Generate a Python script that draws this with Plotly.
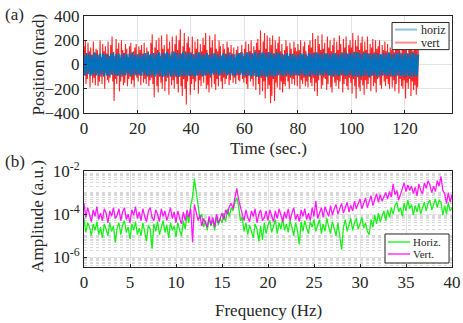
import plotly.graph_objects as go

# (a) position time series (nrad)
vert_step = 0.25
vert = [
    150, -90, 200, -160, 70, -120, 180, -60, 110, -190, 140, -80, 60, -150, 190, -110, 90, -170, 130, -70,
    120, -180, 80, -140, 200, -100, 60, -160, 170, -90, 110, -200, 150, -70, 90, -130, 190, -150, 70, -110,
    160, -80, 230, -140, 100, -300, 70, -120, 210, -160, 130, -90, 180, -220, 60, -140, 200, -100, 120, -170,
    90, -150, 170, -70, 130, -180, 60, -120, 150, -100, 180, -160, 80, -130, 110, -190, 140, -80, 170, -110,
    70, -140, 150, -90, 120, -170, 160, -60, 90, -150, 180, -120, 60, -160, 140, -100, 110, -180, 80, -130,
    180, -110, 250, -160, 90, -270, 140, -80, 200, -180, 120, -230, 220, -100, 70, -150, 240, -200, 130, -90,
    160, -220, 90, -140, 250, -110, 130, -250, 190, -80, 70, -170, 230, -130, 110, -200, 170, -90, 240, -160,
    120, -230, 200, -100, 290, -180, 90, -260, 150, -120, 260, -200, 110, -330, 180, -140, 230, -90, 140, -250,
    100, -160, 230, -120, 80, -210, 190, -140, 130, -90, 210, -240, 70, -130, 170, -180, 110, -100, 220, -150,
    160, -90, 260, -200, 120, -170, 80, -230, 240, -110, 140, -190, 200, -70, 90, -160, 250, -210, 130, -120,
    110, -180, 200, -90, 150, -140, 70, -200, 170, -110, 130, -160, 90, -120, 190, -80, 140, -170, 100, -130,
    160, -70, 90, -150, 140, -110, 60, -160, 120, -90, 150, -130, 80, -140, 100, -70, 160, -120, 70, -150,
    130, -110, 190, -160, 80, -200, 170, -90, 110, -140, 200, -120, 90, -180, 150, -70, 120, -210, 180, -100,
    210, -160, 120, -250, 280, -110, 90, -220, 190, -140, 260, -280, 130, -90, 240, -200, 100, -170, 220, -320,
    160, -260, 240, -120, 90, -300, 200, -150, 130, -190, 180, -80, 230, -210, 110, -140, 170, -230, 80, -160,
    120, -180, 200, -100, 150, -140, 70, -200, 180, -110, 130, -160, 90, -120, 190, -170, 140, -90, 110, -180,
    170, -90, 120, -200, 200, -130, 80, -160, 150, -110, 190, -180, 110, -140, 70, -190, 160, -100, 200, -150,
    140, -180, 260, -110, 100, -220, 210, -150, 90, -260, 240, -130, 170, -90, 120, -200, 250, -170, 130, -110,
    180, -120, 90, -210, 230, -160, 140, -90, 200, -190, 110, -230, 160, -100, 220, -150, 80, -180, 190, -130,
    120, -200, 240, -140, 170, -90, 100, -230, 210, -160, 140, -120, 230, -180, 90, -210, 160, -110, 200, -150,
    140, -240, 260, -120, 90, -180, 200, -280, 150, -100, 240, -190, 120, -220, 180, -130, 230, -170, 110, -250,
    190, -130, 120, -200, 230, -160, 90, -110, 170, -220, 140, -90, 210, -180, 100, -150, 200, -230, 130, -120,
    150, -110, 200, -170, 80, -200, 160, -90, 120, -140, 190, -180, 110, -120, 170, -160, 90, -200, 140, -100,
    120, -190, 250, -130, 100, -220, 180, -160, 230, -90, 140, -240, 200, -120, 90, -180, 220, -200, 160, -130,
    130, -280, 220, -150, 90, -200, 190, -120, 160, -260, 200, -140, 110, -210, 180, -170, 210, -250, 140, -190,
    120,
]
horiz_step = 0.5
horiz = [
    85, -90, 95, -80, 90, -95, 80, -85, 100, -90, 85, -95, 90, -80, 95, -100, 85, -90, 80, -95,
    90, -85, 100, -90, 85, -95, 90, -100, 80, -85, 95, -90, 85, -80, 90, -95, 100, -85, 80, -90,
    85, -80, 90, -95, 80, -85, 95, -90, 100, -95, 85, -90, 95, -100, 90, -85, 100, -95, 90, -100,
    95, -100, 105, -95, 90, -100, 105, -90, 100, -105, 95, -100, 90, -95, 105, -100, 95, -90, 100, -95,
    90, -95, 85, -100, 95, -90, 100, -85, 90, -95, 85, -90, 95, -85, 80, -90, 95, -85, 90, -80,
    85, -90, 80, -85, 90, -80, 85, -90, 95, -85, 80, -90, 85, -95, 90, -80, 95, -85, 100, -90,
    90, -95, 100, -90, 95, -100, 90, -95, 105, -100, 95, -105, 100, -95, 105, -100, 95, -105, 100, -95,
    95, -100, 90, -95, 100, -90, 95, -85, 90, -95, 85, -90, 95, -85, 90, -95, 85, -90, 80, -85,
    85, -90, 95, -85, 90, -95, 85, -90, 95, -100, 90, -85, 95, -90, 100, -95, 90, -85, 95, -90,
    90, -85, 95, -90, 85, -95, 90, -100, 95, -90, 85, -95, 90, -85, 95, -90, 100, -95, 90, -85,
    95, -100, 105, -95, 100, -105, 95, -100, 90, -95, 100, -90, 95, -100, 90, -95, 85, -90, 95, -100,
    90, -95, 85, -90, 95, -85, 90, -95, 100, -90, 85, -95, 90, -100, 95, -90, 100, -95, 90, -100,
    95, -100, 90, -95, 100, -105, 95, -100, 90, -95, 85,
]

# (b) amplitude spectra, log10 values every 0.2 Hz from 0 to 40 Hz
freq_step = 0.2
horiz_log = [
    -4.2, -4.85, -4.4, -4.6, -5.0, -4.45, -4.75, -4.35, -4.95, -4.6,
    -5.1, -4.45, -4.7, -5.0, -4.4, -4.8, -4.55, -5.3, -4.65, -4.4,
    -4.95, -4.5, -4.3, -4.85, -4.6, -5.15, -4.45, -4.75, -4.35, -4.95,
    -4.65, -5.0, -4.4, -4.8, -5.25, -4.5, -4.7, -5.6, -4.45, -4.8,
    -4.35, -4.95, -4.6, -4.3, -4.85, -4.5, -5.1, -4.4, -4.75, -4.55,
    -5.05, -4.4, -4.75, -5.0, -4.3, -4.7, -4.0, -4.4, -3.6, -3.2,
    -2.35, -3.1, -3.6, -4.2, -4.0, -4.6, -4.3, -4.75, -4.2, -4.55,
    -4.25, -4.75, -4.1, -4.5, -4.2, -4.4, -3.95, -4.35, -3.75, -4.1,
    -3.7, -3.85, -3.45, -3.25, -3.6, -4.3, -4.15, -4.8, -4.4, -4.95,
    -4.5, -4.8, -5.1, -4.45, -4.7, -5.25, -4.55, -5.2, -4.4, -4.9,
    -4.5, -4.3, -4.85, -4.55, -4.25, -4.9, -4.4, -4.7, -4.2, -4.75,
    -4.45, -4.85, -4.3, -4.6, -5.0, -4.4, -4.75, -5.4, -4.35, -4.8,
    -4.3, -4.65, -4.9, -4.35, -4.6, -4.25, -4.8, -4.5, -4.25, -4.9,
    -4.45, -4.8, -4.2, -4.6, -4.9, -4.35, -4.7, -5.0, -4.4, -5.1,
    -5.65, -4.6, -4.25, -4.8, -4.45, -4.2, -4.75, -4.4, -4.2, -4.7,
    -4.45, -4.15, -4.65, -4.4, -4.8, -4.95, -4.25, -4.6, -4.05, -4.45,
    -3.95, -4.35, -4.1, -3.85, -4.3, -3.8, -4.15, -3.7, -4.0, -3.6,
    -3.45, -3.9, -3.7, -4.1, -3.5, -3.85, -3.35, -3.75, -3.55, -4.05,
    -3.6, -3.9, -3.5, -4.0, -3.7, -3.45, -3.85, -3.5, -3.35, -3.8,
    -3.55, -3.3, -3.7, -3.35, -3.45, -4.05, -3.6, -4.0, -3.45, -3.85,
    -3.7,
]
vert_log = [
    -3.5, -4.15, -3.7, -4.0, -4.35, -3.8, -4.1, -3.65, -4.25, -3.95,
    -4.3, -3.75, -3.95, -4.4, -3.85, -4.1, -3.7, -4.2, -4.05, -3.75,
    -4.3, -3.9, -3.7, -4.25, -4.0, -4.4, -3.8, -4.05, -3.65, -4.2,
    -3.9, -4.3, -3.75, -4.1, -4.35, -3.85, -3.7, -4.15, -4.3, -3.8,
    -4.0, -4.35, -3.75, -4.1, -3.85, -4.3, -4.0, -3.7, -4.2, -3.9,
    -4.4, -3.85, -4.2, -4.45, -3.9, -4.3, -3.8, -4.15, -3.75, -5.3,
    -3.55, -3.95, -4.3, -4.05, -4.55, -4.2, -4.45, -4.6, -4.1, -4.5,
    -4.15, -4.6, -4.0, -4.4, -4.2, -3.95, -4.25, -3.8, -4.0, -3.65,
    -3.5, -3.75, -3.25, -2.8, -3.3, -3.7, -4.0, -4.3, -3.8, -4.15,
    -4.35, -3.85, -4.1, -3.75, -4.4, -4.0, -3.8, -4.3, -4.15, -3.85,
    -4.3, -3.8, -4.05, -4.35, -3.85, -4.2, -3.75, -4.1, -4.35, -3.9,
    -4.2, -3.75, -4.3, -3.95, -3.7, -4.25, -4.0, -4.35, -3.8, -4.1,
    -3.75, -4.25, -3.95, -4.3, -3.7, -4.1, -3.4, -4.2, -3.9, -3.7,
    -4.15, -3.65, -3.9, -4.1, -3.6, -4.05, -3.75, -3.55, -4.0, -3.7,
    -3.5, -3.95, -3.7, -3.45, -3.9, -3.6, -3.85, -3.4, -3.75, -3.55,
    -3.3, -3.75, -3.5, -3.25, -3.7, -3.4, -3.15, -3.6, -3.35, -3.05,
    -3.45, -3.1, -3.4, -3.2, -3.0, -3.3, -2.95, -3.2, -2.6, -3.1,
    -2.9, -3.35, -3.05, -2.8, -2.55, -2.95, -2.65, -2.9, -2.7, -3.05,
    -2.75, -3.15, -2.6, -2.9, -3.05, -2.55, -2.8, -2.45, -2.65, -3.0,
    -2.7, -2.95, -2.45, -2.7, -2.25, -2.9, -3.05, -3.5, -3.0, -3.45,
    -3.1,
]

t_vert = [i * vert_step for i in range(len(vert))]
t_horiz = [i * horiz_step for i in range(len(horiz))]
f = [i * freq_step for i in range(len(vert_log))]

FONT = "Liberation Serif"
INK = "#262626"

fig = go.Figure()

# vert drawn first so horiz sits on top, as in the reference
fig.add_trace(go.Scatter(x=t_vert, y=vert, mode="lines", name="vert",
                         line=dict(color="rgba(255,0,0,0.85)", width=1.1)))
fig.add_trace(go.Scatter(x=t_horiz, y=horiz, mode="lines", name="horiz",
                         line=dict(color="#0072BD", width=1.8)))
fig.add_trace(go.Scatter(x=f, y=[10 ** v for v in horiz_log], mode="lines",
                         name="Horiz.", line=dict(color="rgba(0,240,0,0.9)", width=1.3),
                         xaxis="x2", yaxis="y2"))
fig.add_trace(go.Scatter(x=f, y=[10 ** v for v in vert_log], mode="lines",
                         name="Vert.", line=dict(color="rgba(255,0,255,0.9)", width=1.3),
                         xaxis="x2", yaxis="y2"))

ax = dict(showline=True, mirror=True, linecolor=INK, linewidth=1,
          ticks="inside", ticklen=3, tickcolor=INK, zeroline=False, automargin=False,
          gridcolor="#e3e3e3", tickfont=dict(family=FONT, size=17, color=INK))


def label(text, x, y, size=17, angle=0, anchor="center"):
    return dict(text=text, xref="paper", yref="paper", x=x, y=y, textangle=angle,
                xanchor=anchor, yanchor="middle", showarrow=False,
                font=dict(family=FONT, size=size, color=INK))


# small boxed legends, placed like the MATLAB ones (paper coordinates)
legend_items = [
    # (text, line colour, line y, x0, x1, text x, font size)
    ("horiz", "rgba(0,114,189,0.45)", 0.946, 0.845, 0.905, 0.91, 12),
    ("vert", "rgba(255,0,0,0.45)", 0.894, 0.845, 0.905, 0.91, 12),
    ("Horiz.", "rgba(0,240,0,0.6)", 0.0996, 0.826, 0.886, 0.889, 11),
    ("Vert.", "rgba(255,0,255,0.6)", 0.0518, 0.826, 0.886, 0.889, 11),
]
shapes = [
    dict(type="rect", xref="paper", yref="paper", x0=0.837, x1=0.992, y0=0.866, y1=0.974,
         fillcolor="white", line=dict(color=INK, width=1), layer="above"),
    dict(type="rect", xref="paper", yref="paper", x0=0.818, x1=0.992, y0=0.016, y1=0.1315,
         fillcolor="white", line=dict(color=INK, width=1), layer="above"),
]
annotations = [
    label("(a)", -0.22, 1.004, anchor="left"),
    label("(b)", -0.22, 0.422, anchor="left"),
    label("Position (nrad)", -0.125, 0.807, angle=-90),
    label("Amplitude (a.u.)", -0.125, 0.2, angle=-90),
    label("Time (sec.)", 0.5, 0.474),
    label("Frequency (Hz)", 0.5, -0.175),
]
for text, color, ly, x0, x1, tx, size in legend_items:
    shapes.append(dict(type="line", xref="paper", yref="paper", x0=x0, x1=x1, y0=ly, y1=ly,
                       line=dict(color=color, width=2), layer="above"))
    annotations.append(label(text, tx, ly, size=size, anchor="left"))

fig.update_layout(
    width=463, height=323,
    margin=dict(l=84, r=11, t=16, b=56),
    paper_bgcolor="white", plot_bgcolor="white",
    font=dict(family=FONT, color=INK),
    showlegend=False,
    xaxis=dict(ax, domain=[0, 1], anchor="y", range=[0, 137.6], dtick=20),
    yaxis=dict(ax, domain=[0.6135, 1], anchor="x", range=[-400, 400], dtick=200),
    xaxis2=dict(ax, domain=[0, 1], anchor="y2", range=[0, 40], dtick=5),
    yaxis2=dict(ax, domain=[0, 0.3825], anchor="x2", type="log", range=[-6.45, -2],
                tickvals=[1e-6, 1e-4, 1e-2],
                ticktext=["10<sup>-6</sup>", "10<sup>-4</sup>", "10<sup>-2</sup>"],
                minor=dict(dtick="D1", showgrid=True, gridcolor="#d8d8d8",
                           griddash="dot", ticks="")),
    shapes=shapes,
    annotations=annotations,
)

fig.write_html("out.html", config={"displayModeBar": False},
               post_script="document.body.style.margin='0';")
